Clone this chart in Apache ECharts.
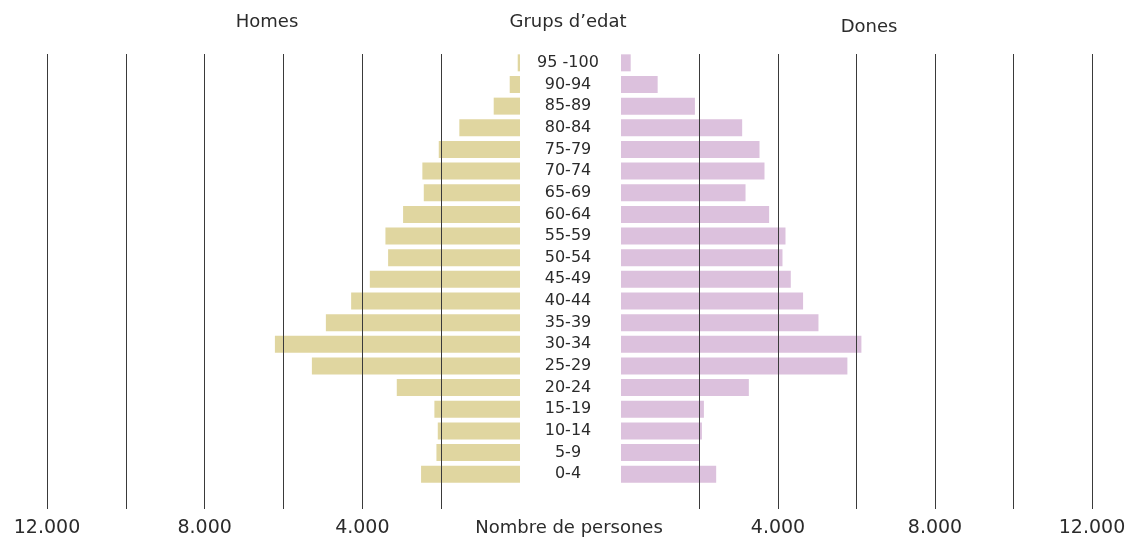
<!DOCTYPE html>
<html>
<head>
<meta charset="utf-8">
<style>
    html, body { margin: 0; padding: 0; background: #fff; }
    #chart { width: 1130px; height: 539px; }
</style>
<script src="https://cdn.jsdelivr.net/npm/echarts@6/dist/echarts.min.js"></script>
</head>
<body>
<div id="chart"></div>
<script>
    // grups d'edat, de baix a dalt
    var ageGroups = ['0-4', '5-9', '10-14', '15-19', '20-24', '25-29', '30-34', '35-39', '40-44', '45-49',
        '50-54', '55-59', '60-64', '65-69', '70-74', '75-79', '80-84', '85-89', '90-94', '95 -100'];
    var homes = [2510, 2120, 2086, 2172, 3126, 5280, 6218, 4925, 4284, 3810,
        3346, 3414, 2966, 2441, 2477, 2061, 1539, 667, 261, 58];
    var dones = [2425, 1985, 2061, 2112, 3257, 5768, 6125, 5031, 4639, 4326,
        4114, 4191, 3774, 3173, 3656, 3529, 3087, 1883, 934, 247];
    var tickLabels = [4000, 8000, 12000];

    var font = 'DejaVu Sans';
    var txt = '#2b2b2b';

    function fmt(v) {
        return tickLabels.indexOf(v) >= 0 ? (v / 1000) + '.000' : '';
    }

    function overlayAxis(idx, inverse) {
        return {
            type: 'value', gridIndex: idx, min: 0, max: 12000, interval: 2000, inverse: inverse, z: 10,
            axisLine: {show: false}, axisTick: {show: false},
            splitLine: {show: true, showMinLine: false, lineStyle: {color: '#3a3a3a', width: 1}},
            axisLabel: {formatter: fmt, margin: 10, fontFamily: font, fontSize: 19, color: txt}
        };
    }

    var myChart = echarts.init(document.getElementById('chart'));
    myChart.setOption({
        animation: false,
        grid: [
            {left: 47, right: 610, top: 52, height: 433},
            {left: 621, right: 38, top: 52, height: 433},
            {left: 47, right: 610, top: 54, bottom: 30},
            {left: 621, right: 38, top: 54, bottom: 30}
        ],
        xAxis: [
            {type: 'value', gridIndex: 0, min: 0, max: 12000, inverse: true, show: false},
            {type: 'value', gridIndex: 1, min: 0, max: 12000, show: false},
            overlayAxis(2, true),
            overlayAxis(3, false)
        ],
        yAxis: [
            {
                type: 'category', gridIndex: 0, data: ageGroups, position: 'right',
                axisLine: {show: false}, axisTick: {show: false}, splitLine: {show: false},
                axisLabel: {align: 'center', margin: 48, fontFamily: font, fontSize: 16, color: txt, interval: 0}
            },
            {type: 'category', gridIndex: 1, data: ageGroups, show: false},
            {type: 'value', gridIndex: 2, show: false},
            {type: 'value', gridIndex: 3, show: false}
        ],
        series: [
            {
                name: 'Homes', type: 'bar', xAxisIndex: 0, yAxisIndex: 0, barWidth: 17,
                itemStyle: {color: '#e0d6a0'}, data: homes
            },
            {
                name: 'Dones', type: 'bar', xAxisIndex: 1, yAxisIndex: 1, barWidth: 17,
                itemStyle: {color: '#dcc1dd'}, data: dones
            }
        ],
        graphic: [
            {type: 'text', x: 267, y: 22, style: {text: 'Homes', align: 'center', verticalAlign: 'middle', font: '18px "DejaVu Sans"', fill: txt}},
            {type: 'text', x: 568, y: 22, style: {text: 'Grups d\u2019edat', align: 'center', verticalAlign: 'middle', font: '18px "DejaVu Sans"', fill: txt}},
            {type: 'text', x: 869, y: 27, style: {text: 'Dones', align: 'center', verticalAlign: 'middle', font: '18px "DejaVu Sans"', fill: txt}},
            {type: 'text', x: 569, y: 528, style: {text: 'Nombre de persones', align: 'center', verticalAlign: 'middle', font: '18px "DejaVu Sans"', fill: txt}}
        ]
    });
</script>
</body>
</html>
